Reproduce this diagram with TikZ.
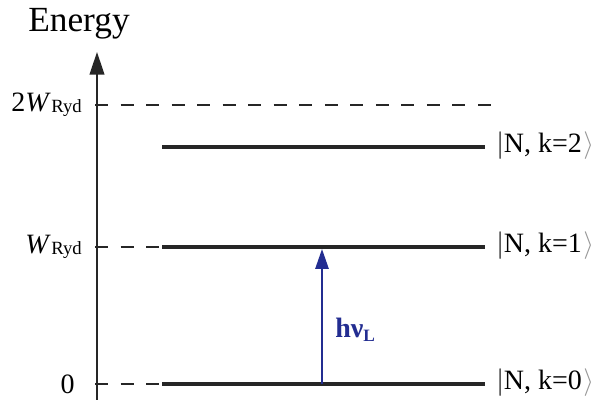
\documentclass[tikz,border=0pt]{standalone}
\usepackage{fontspec}
\setmainfont{Liberation Serif}
\usetikzlibrary{arrows.meta}
\definecolor{photon}{RGB}{35,45,145}
\definecolor{brk}{RGB}{150,150,150}
\newcommand{\Wryd}{\textit{W}\kern0.5pt{\fontsize{14}{14}\selectfont\raisebox{-1pt}{Ryd}}}
\newcommand{\ketN}[1]{$|$N, k=#1\kern1pt\textcolor{brk}{$\rangle$}}
\begin{document}
\begin{tikzpicture}[x=0.75pt,y=-0.75pt,
  axisline/.style={line width=1.5pt,black!85},
  dashline/.style={line width=1.6pt,black!85,dash pattern=on 9.75pt off 9.4pt},
  level/.style={line width=2.6pt,black!85},
  lbl/.style={font=\fontsize{21}{22}\selectfont,inner sep=0pt},
  photonarrow/.style={line width=1.4pt,photon,-{Triangle[length=15pt,width=10pt]}}]
\useasboundingbox (0,0) rectangle (600,402);
% axis
\coordinate (ax0) at (97,400);
\coordinate (ax1) at (97,52);
\draw[axisline,-{Triangle[length=17pt,width=11pt]}] (ax0) -- (ax1);
\node[font=\fontsize{26.5}{28}\selectfont,anchor=base,inner sep=0pt] (energy) at (79,32) {Energy};
% tick/dashed lines
\coordinate (d2a) at (95,105); \coordinate (d2b) at (495,105);
\coordinate (d1a) at (95,247); \coordinate (d1b) at (162,247);
\coordinate (d0a) at (95,384); \coordinate (d0b) at (162,384);
\draw[dashline] (d2a) -- (d2b);
\draw[dashline] (d1a) -- (d1b);
\draw[dashline] (d0a) -- (d0b);
% levels
\coordinate (l2a) at (162,147); \coordinate (l2b) at (485,147);
\coordinate (l1a) at (162,247); \coordinate (l1b) at (485,247);
\coordinate (l0a) at (162,384); \coordinate (l0b) at (485,384);
\draw[level] (l2a) -- (l2b);
\draw[level] (l1a) -- (l1b);
\draw[level] (l0a) -- (l0b);
% axis labels
\node[lbl,anchor=east] (t2) at (82,105) {2\Wryd};
\node[lbl,anchor=east] (t1) at (82,247) {\Wryd};
\node[lbl,anchor=east] (t0) at (75,384) {0};
% state labels
\node[lbl,anchor=west] (k2) at (496,146) {\ketN{2}};
\node[lbl,anchor=west] (k1) at (496,246) {\ketN{1}};
\node[lbl,anchor=west] (k0) at (496,383) {\ketN{0}};
% photon
\coordinate (p0) at (322,384);
\coordinate (p1) at (322,249);
\draw[photonarrow] (p0) -- (p1);
\node[anchor=base west,inner sep=0pt,text=photon,font=\fontsize{21}{22}\selectfont\bfseries] (hv) at (335,338) {hν\raisebox{-3pt}{\fontsize{13}{13}\selectfont L}};
\end{tikzpicture}
\end{document}
